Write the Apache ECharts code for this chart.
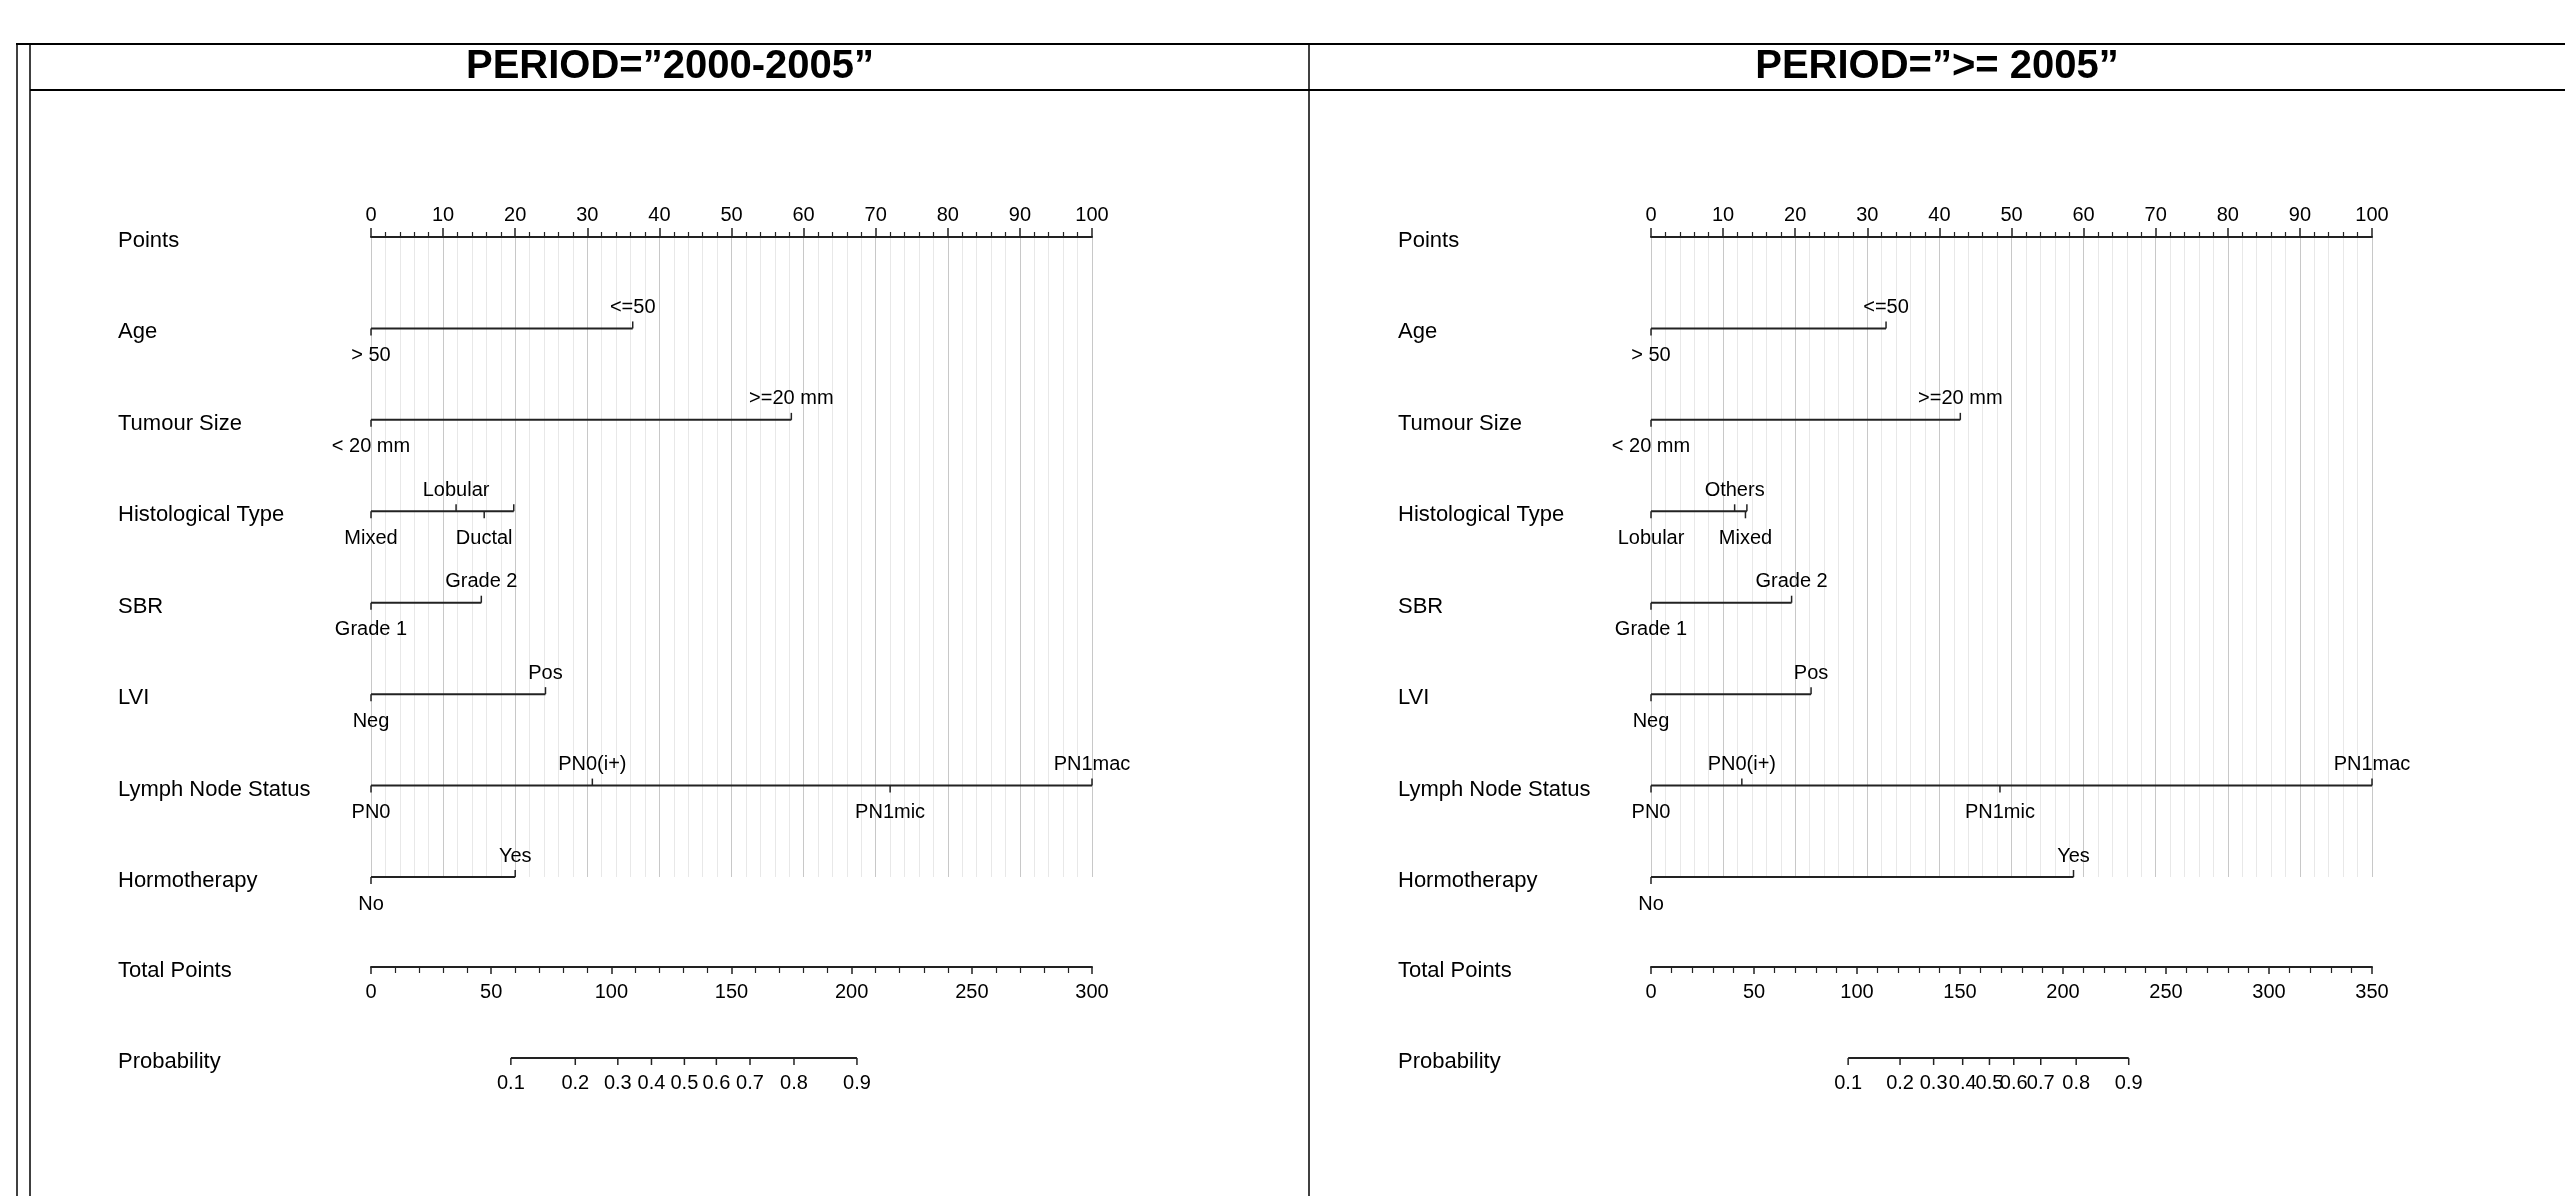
<!DOCTYPE html>
<html>
<head>
<meta charset="utf-8">
<title>Nomogram by period</title>
<script src="https://cdn.jsdelivr.net/npm/echarts@6/dist/echarts.min.js"></script>
<style>
  html, body { margin: 0; padding: 0; background: #fff; }
  #main { width: 2565px; height: 1196px; }
</style>
</head>
<body>
<div id="main"></div>
<script>
// row names, top to bottom
var rowNames = ['Points', 'Age', 'Tumour Size', 'Histological Type', 'SBR', 'LVI',
  'Lymph Node Status', 'Hormotherapy', 'Total Points', 'Probability'];
var titles = ['PERIOD=\u201d2000-2005\u201d', 'PERIOD=\u201d>= 2005\u201d'];

// PERIOD 2000-2005 : [level, points]
var ageA = [['> 50', 0], ['<=50', 36.3]];
var tumourA = [['< 20 mm', 0], ['>=20 mm', 58.3]];
var histA = [['Mixed', 0], ['Lobular', 11.8], ['Ductal', 15.7], ['Others', 19.8]];
var sbrA = [['Grade 1', 0], ['Grade 2', 15.3]];
var lviA = [['Neg', 0], ['Pos', 24.2]];
var nodeA = [['PN0', 0], ['PN0(i+)', 30.7], ['PN1mic', 72.0], ['PN1mac', 100]];
var hormoA = [['No', 0], ['Yes', 20.0]];
var totalMaxA = 300;
// probability -> total points
var probA = [[0.1, 58.2], [0.2, 85.0], [0.3, 102.7], [0.4, 116.7], [0.5, 130.4],
  [0.6, 143.7], [0.7, 157.7], [0.8, 176.0], [0.9, 202.2]];
var hiddenA = ['Others'];

// PERIOD >= 2005
var ageB = [['> 50', 0], ['<=50', 32.6]];
var tumourB = [['< 20 mm', 0], ['>=20 mm', 42.9]];
var histB = [['Lobular', 0], ['Others', 11.6], ['Mixed', 13.1], ['Ductal', 13.3]];
var sbrB = [['Grade 1', 0], ['Grade 2', 19.5]];
var lviB = [['Neg', 0], ['Pos', 22.2]];
var nodeB = [['PN0', 0], ['PN0(i+)', 12.6], ['PN1mic', 48.4], ['PN1mac', 100]];
var hormoB = [['No', 0], ['Yes', 58.6]];
var totalMaxB = 350;
var probB = [[0.1, 95.7], [0.2, 120.9], [0.3, 137.2], [0.4, 151.3], [0.5, 164.3],
  [0.6, 176.1], [0.7, 189.2], [0.8, 206.4], [0.9, 231.9]];
var hiddenB = ['Ductal'];

var panels = [
  { vars: [ageA, tumourA, histA, sbrA, lviA, nodeA, hormoA], total: totalMaxA, prob: probA, hidden: hiddenA },
  { vars: [ageB, tumourB, histB, sbrB, lviB, nodeB, hormoB], total: totalMaxB, prob: probB, hidden: hiddenB }
];

var FONT = 'Liberation Sans';
var LINE = '#222';

function spanRender(params, api) {
  var a = api.coord([api.value(0), api.value(2)]);
  var b = api.coord([api.value(1), api.value(2)]);
  return {
    type: 'line',
    shape: { x1: a[0], y1: a[1], x2: b[0], y2: b[1] },
    style: { stroke: LINE, lineWidth: 2 }
  };
}

function tickRender(recs, fontSize, above, below) {
  return function (params, api) {
    var r = recs[params.dataIndex];
    var p = api.coord([api.value(0), api.value(1)]);
    var kids = [{
      type: 'line',
      shape: { x1: p[0], y1: p[1], x2: p[0], y2: p[1] - r.side * 7 },
      style: { stroke: LINE, lineWidth: 1.5 }
    }];
    if (r.label) {
      kids.push({
        type: 'text',
        x: p[0],
        y: r.side > 0 ? p[1] - above : p[1] + below,
        style: {
          text: r.label, fill: '#000', fontSize: fontSize, fontFamily: FONT,
          align: 'center', verticalAlign: 'middle',
          textAlign: 'center', textVerticalAlign: 'middle'
        }
      });
    }
    return { type: 'group', children: kids };
  };
}

var grids = [], xAxes = [], yAxes = [], series = [], titleList = [];

panels.forEach(function (pn, p) {
  var left = 371 + p * 1280;
  var gi = 2 * p;

  titleList.push({
    text: titles[p], left: 670 + p * 1267, top: 47, textAlign: 'center', padding: 0,
    textStyle: { fontSize: 40, fontWeight: 'bold', fontFamily: FONT, color: '#000' }
  });

  grids.push({ left: left, top: 237, width: 721, height: 640, outerBoundsMode: 'none' });
  grids.push({ left: left, top: 967, width: 721, height: 91, outerBoundsMode: 'none' });

  // Points axis
  xAxes.push({
    type: 'value', gridIndex: gi, min: 0, max: 100, interval: 10, position: 'top',
    axisLine: { show: true, lineStyle: { color: LINE, width: 2 } },
    axisTick: { show: true, length: 9, lineStyle: { color: LINE, width: 1.5 } },
    minorTick: { show: true, splitNumber: 5, length: 5, lineStyle: { color: LINE, width: 1.2 } },
    splitLine: { show: true, lineStyle: { color: '#c8c8c8', width: 1 } },
    minorSplitLine: { show: true, lineStyle: { color: '#e8e8e8', width: 1 } },
    axisLabel: { margin: 12, fontSize: 20, fontFamily: FONT, color: '#000' }
  });
  // Total Points axis
  xAxes.push({
    type: 'value', gridIndex: gi + 1, min: 0, max: pn.total, interval: 50, position: 'top',
    axisLine: { show: true, lineStyle: { color: LINE, width: 2 } },
    axisTick: { show: true, inside: true, length: 7, lineStyle: { color: LINE, width: 1.5 } },
    minorTick: { show: true, splitNumber: 5, length: 6, lineStyle: { color: LINE, width: 1.2 } },
    splitLine: { show: false },
    axisLabel: { inside: true, margin: 15, fontSize: 20, fontFamily: FONT, color: '#000' }
  });

  var rowLabel = {
    align: 'left', margin: 253, color: '#000',
    formatter: function (v) { return rowNames[v] ? '{r|' + rowNames[v] + '}' : ''; },
    rich: { r: { fontSize: 22, fontFamily: FONT, color: '#000', padding: [8, 0, 0, 0] } }
  };
  yAxes.push({
    type: 'value', gridIndex: gi, min: 0, max: 7, interval: 1, inverse: true,
    axisLine: { show: false }, axisTick: { show: false }, splitLine: { show: false },
    axisLabel: rowLabel
  });
  yAxes.push({
    type: 'value', gridIndex: gi + 1, min: 8, max: 9, interval: 1, inverse: true,
    axisLine: { show: false }, axisTick: { show: false }, splitLine: { show: false },
    axisLabel: rowLabel
  });

  // predictor rows
  var spans = [], recs = [];
  pn.vars.forEach(function (lv, k) {
    var row = k + 1;
    var vals = lv.map(function (d) { return d[1]; });
    spans.push([Math.min.apply(null, vals), Math.max.apply(null, vals), row]);
    lv.slice().sort(function (a, b) { return a[1] - b[1]; }).forEach(function (d, j) {
      recs.push({
        x: d[1], row: row, side: j % 2 === 0 ? -1 : 1,
        label: pn.hidden.indexOf(d[0]) >= 0 ? '' : d[0]
      });
    });
  });

  series.push({
    type: 'custom', xAxisIndex: gi, yAxisIndex: gi, clip: false, silent: true,
    encode: { x: [0, 1], y: 2 }, data: spans, renderItem: spanRender
  });
  series.push({
    type: 'custom', xAxisIndex: gi, yAxisIndex: gi, clip: false, silent: true,
    data: recs.map(function (r) { return [r.x, r.row]; }),
    renderItem: tickRender(recs, 20, 21, 27)
  });

  // probability scale on the total points axis
  var probRecs = pn.prob.map(function (d) {
    return { x: d[1], row: 9, side: -1, label: d[0].toFixed(1) };
  });
  series.push({
    type: 'custom', xAxisIndex: gi + 1, yAxisIndex: gi + 1, clip: false, silent: true,
    encode: { x: [0, 1], y: 2 },
    data: [[pn.prob[0][1], pn.prob[pn.prob.length - 1][1], 9]],
    renderItem: spanRender
  });
  series.push({
    type: 'custom', xAxisIndex: gi + 1, yAxisIndex: gi + 1, clip: false, silent: true,
    data: probRecs.map(function (r) { return [r.x, r.row]; }),
    renderItem: tickRender(probRecs, 20, 21, 25)
  });
});

var frame = [
  { x1: 16, y1: 44, x2: 2565, y2: 44, w: 2 },
  { x1: 30, y1: 90, x2: 2565, y2: 90, w: 2 },
  { x1: 17, y1: 44, x2: 17, y2: 1196, w: 1.5 },
  { x1: 30, y1: 44, x2: 30, y2: 1196, w: 1.5 },
  { x1: 1309, y1: 44, x2: 1309, y2: 1196, w: 1.5 }
];

var chart = echarts.init(document.getElementById('main'));
chart.setOption({
  backgroundColor: '#fff',
  animation: false,
  textStyle: { fontFamily: FONT },
  title: titleList,
  grid: grids,
  xAxis: xAxes,
  yAxis: yAxes,
  series: series,
  graphic: frame.map(function (f) {
    return {
      type: 'line', silent: true,
      shape: { x1: f.x1, y1: f.y1, x2: f.x2, y2: f.y2 },
      style: { stroke: '#000', lineWidth: f.w }
    };
  })
});
</script>
</body>
</html>
